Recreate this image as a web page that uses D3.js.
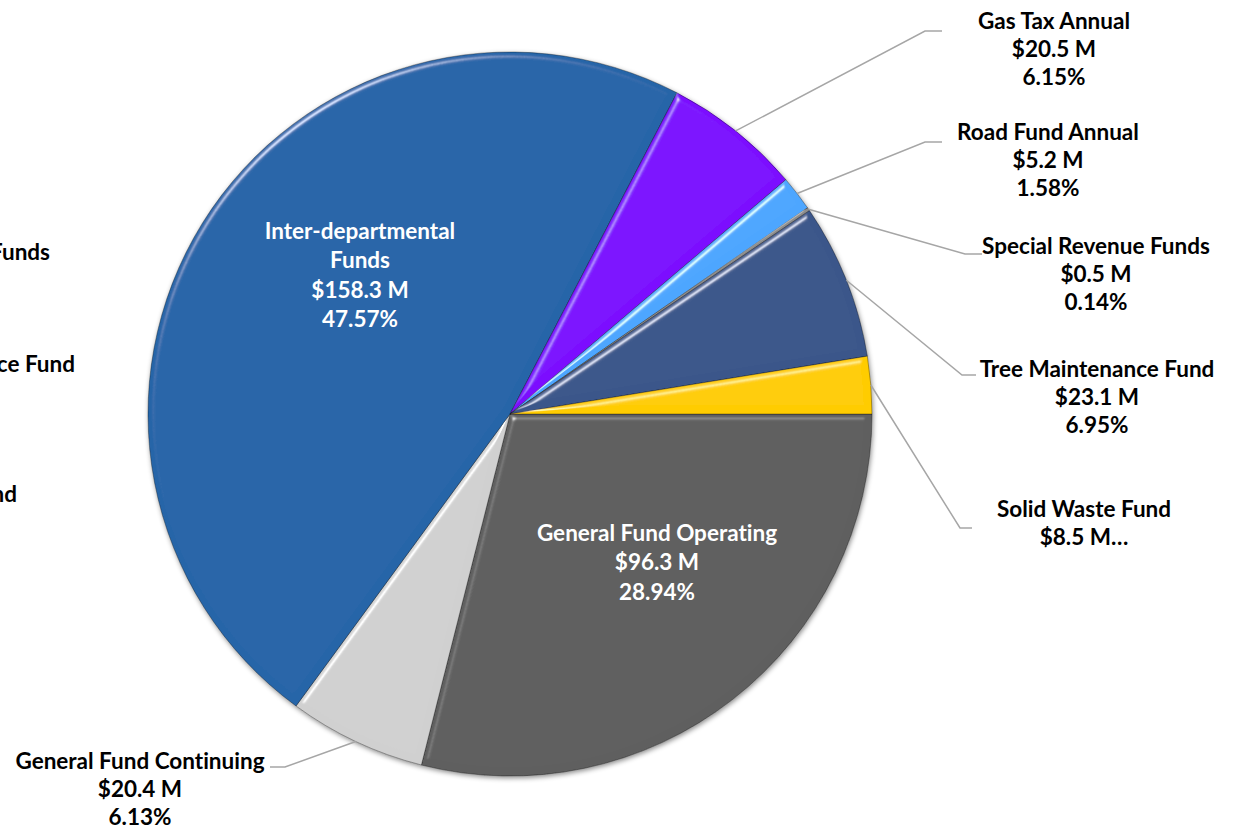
<!DOCTYPE html>
<html>
<head>
<meta charset="utf-8">
<script src="https://cdn.jsdelivr.net/npm/d3@7/dist/d3.min.js"></script>
<style>
  html, body { margin: 0; padding: 0; background: #fff; overflow: hidden; }
  svg text { font-family: Lato, "Open Sans", sans-serif; font-weight: 700; font-variant-ligatures: none; }
</style>
</head>
<body>
<div id="pie_chart"></div>
<script>
// Data (values in $M, clockwise from 3 o'clock)
const categories = [
  'General Fund Operating',
  'General Fund Continuing',
  'Inter-departmental Funds',
  'Gas Tax Annual',
  'Road Fund Annual',
  'Special Revenue Funds',
  'Tree Maintenance Fund',
  'Solid Waste Fund'
]
const amounts = [96.3, 20.4, 158.3, 20.5, 5.2, 0.5, 23.1, 8.5]
const percents = ['28.94%', '6.13%', '47.57%', '6.15%', '1.58%', '0.14%', '6.95%', '2.55%']
const colors = ['#5f5f5f', '#d0d0d0', '#2665a8', '#7b0bff', '#4da6ff', '#8c8c8c', '#3a568a', '#ffcc00']
// leftover labels clipped at the left edge of the picture
const clippedLabels = ['Special Revenue Funds', 'Tree Maintenance Fund', 'Solid Waste Fund']

const width = 1236
const height = 830
const cx = 510
const cy = 414
const radius = 362
const lineStep = 28
const fontSize = 22.5

// Label layout: inside labels or leader-line labels
const labelLayout = {
  'General Fund Operating': { inside: true, x: 657, y: 532, lines: ['General Fund Operating', '$96.3 M', '28.94%'], step: 29.5 },
  'Inter-departmental Funds': { inside: true, x: 360, y: 230, lines: ['Inter-departmental', 'Funds', '$158.3 M', '47.57%'], step: 29.5 },
  'Gas Tax Annual': { elbow: [925, 31], end: [942, 31], x: 1054, y: 20 },
  'Road Fund Annual': { elbow: [925, 142], end: [942, 142], x: 1048, y: 131 },
  'Special Revenue Funds': { elbow: [965, 254], end: [982, 254], x: 1096, y: 245 },
  'Tree Maintenance Fund': { elbow: [962, 375], end: [976, 375], x: 1097, y: 368 },
  'Solid Waste Fund': { elbow: [960, 528], end: [972, 528], x: 1084, y: 508, lines: ['Solid Waste Fund', '$8.5 M…'] },
  'General Fund Continuing': { elbow: [285, 767], end: [270, 767], x: 140, y: 760 }
}

const data = categories.map((name, i) => ({
  name, amount: amounts[i], percent: percents[i], color: colors[i]
}))

const svg = d3.select('#pie_chart')
  .append('svg')
  .attr('width', width)
  .attr('height', height)

const defs = svg.append('defs')

// Soft bevel look on every slice
const bevel = defs.append('filter')
  .attr('id', 'bevel')
  .attr('x', '-10%').attr('y', '-10%').attr('width', '120%').attr('height', '120%')
bevel.append('feGaussianBlur').attr('in', 'SourceAlpha').attr('stdDeviation', 3).attr('result', 'blur')
const spec = bevel.append('feSpecularLighting')
  .attr('in', 'blur')
  .attr('surfaceScale', 4)
  .attr('specularConstant', 0.6)
  .attr('specularExponent', 55)
  .attr('lighting-color', '#ffffff')
  .attr('result', 'spec')
spec.append('feDistantLight').attr('azimuth', 235).attr('elevation', 40)
bevel.append('feComposite').attr('in', 'spec').attr('in2', 'SourceAlpha').attr('operator', 'in').attr('result', 'specIn')
bevel.append('feComposite')
  .attr('in', 'SourceGraphic').attr('in2', 'specIn')
  .attr('operator', 'arithmetic')
  .attr('k1', 0).attr('k2', 1).attr('k3', 1).attr('k4', 0)

// Drop shadow under the whole pie
const shadow = defs.append('filter')
  .attr('id', 'shadow')
  .attr('x', '-10%').attr('y', '-10%').attr('width', '120%').attr('height', '120%')
shadow.append('feDropShadow')
  .attr('dx', 1).attr('dy', 2).attr('stdDeviation', 2.5)
  .attr('flood-color', '#000').attr('flood-opacity', 0.45)

const pie = d3.pie()
  .sort(null)
  .value(d => d.amount)
  .startAngle(Math.PI / 2)
  .endAngle(Math.PI / 2 + 2 * Math.PI)

const arc = d3.arc().innerRadius(0).outerRadius(radius)
const arcs = pie(data)

const g = svg.append('g')
  .attr('transform', `translate(${cx}, ${cy})`)

// Slices
g.append('g')
  .attr('filter', 'url(#shadow)')
  .selectAll('path')
  .data(arcs)
  .join('path')
  .attr('d', arc)
  .attr('fill', d => d.data.color)
  .attr('stroke', 'rgba(0,0,0,0.4)')
  .attr('stroke-width', 0.8)
  .attr('filter', 'url(#bevel)')

// Leader lines
const leaderArcs = arcs.filter(d => !labelLayout[d.data.name].inside)
svg.append('g')
  .selectAll('polyline')
  .data(leaderArcs)
  .join('polyline')
  .attr('fill', 'none')
  .attr('stroke', '#a6a6a6')
  .attr('stroke-width', 1.5)
  .attr('points', d => {
    const mid = (d.startAngle + d.endAngle) / 2
    const p0 = [cx + radius * Math.sin(mid), cy - radius * Math.cos(mid)]
    const lay = labelLayout[d.data.name]
    return [p0, lay.elbow, lay.end].map(p => p.join(',')).join(' ')
  })

// Labels
arcs.forEach(d => {
  const lay = labelLayout[d.data.name]
  const lines = lay.lines || [d.data.name, `$${d.data.amount} M`, d.data.percent]
  const step = lay.step || lineStep
  const text = svg.append('text')
    .attr('text-anchor', 'middle')
    .attr('font-size', fontSize)
    .attr('fill', lay.inside ? '#ffffff' : '#000000')
  lines.forEach((line, i) => {
    text.append('tspan')
      .attr('x', lay.x)
      .attr('y', lay.y + i * step)
      .attr('dominant-baseline', 'central')
      .text(line)
  })
})

// Cut-off labels along the left edge (as in the reference)
const clippedPos = [[50, 251], [75, 363], [17, 493]]
svg.append('g')
  .selectAll('text')
  .data(clippedLabels)
  .join('text')
  .attr('text-anchor', 'end')
  .attr('dominant-baseline', 'central')
  .attr('font-size', fontSize)
  .attr('x', (d, i) => clippedPos[i][0])
  .attr('y', (d, i) => clippedPos[i][1])
  .text(d => d)
</script>
</body>
</html>
